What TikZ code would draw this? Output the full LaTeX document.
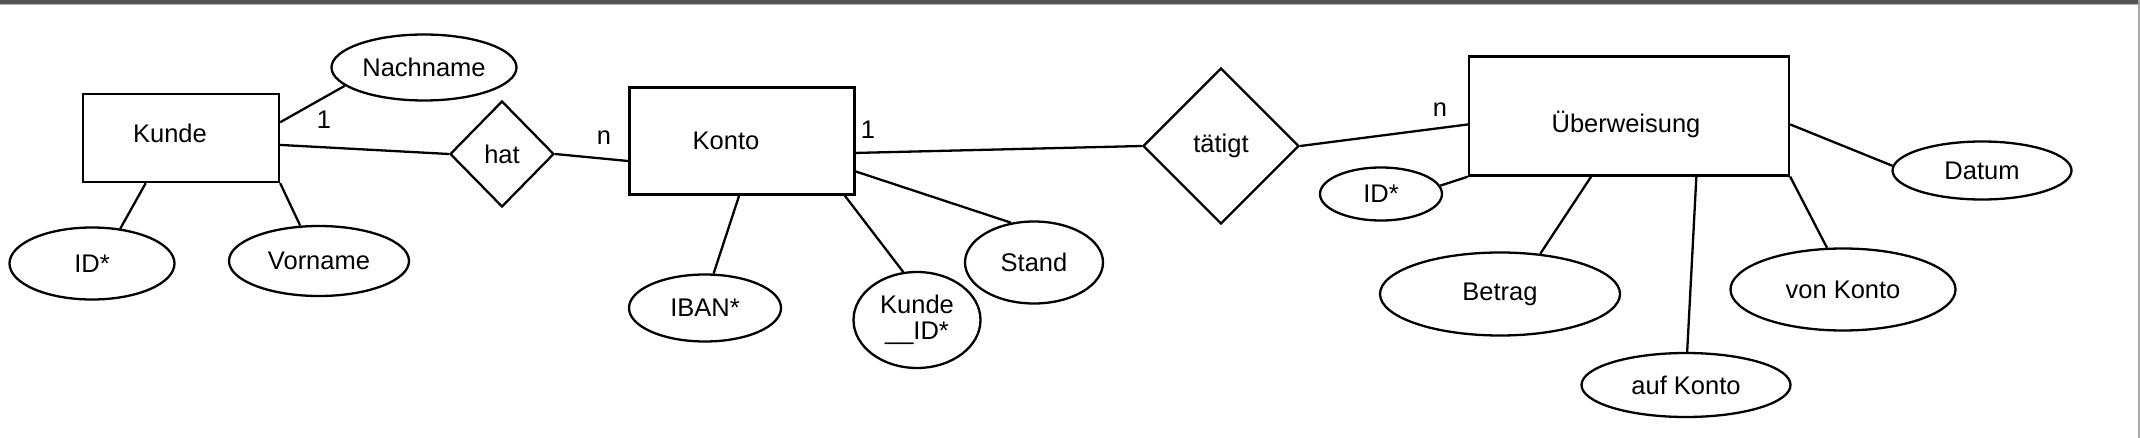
\documentclass[tikz,border=0pt]{standalone}
\usepackage{fontspec}
\setmainfont{Liberation Sans}
\usetikzlibrary{shapes.geometric}

\begin{document}
\begin{tikzpicture}[x=1pt,y=-1pt,line width=2.3pt,font=\fontsize{25.5}{26}\selectfont]

    % `entity' is used for the tables.
    % `attribute' is used for their fields.
    % `relation' is used for the links between tables.
    \tikzstyle{entity} = [draw,rectangle,inner sep=0pt]
    \tikzstyle{attribute} = [draw,ellipse,inner sep=0pt,align=center]
    \tikzstyle{relation} = [draw,diamond,aspect=1,inner sep=0pt]
    \tikzstyle{card} = [inner sep=0pt]
    %
    \useasboundingbox (0,0) rectangle (2140,438);
    \fill[black!67] (0,0) rectangle (2140,4);
    \draw[black!30,line width=1pt] (0,4.5) -- (2140,4.5);
    \draw[black!35,line width=1.5pt] (2139,0) -- (2139,438);

    % Entities.
    \node[entity,minimum width=196,minimum height=88,
      label={[name=kundetext,xshift=-11pt,yshift=5pt]center:Kunde}] (kunde) at (181,138) {};
    \node[entity,minimum width=225,minimum height=107,
      label={[name=kontotext,xshift=-16pt]center:Konto}] (konto) at (742,141) {};
    \node[entity,minimum width=320,minimum height=119,
      label={[name=uebtext,xshift=-3pt,yshift=-8pt]center:Überweisung}] (ueberweisung) at (1629,116) {};

    % Relations.
    \node[relation,minimum width=104,minimum height=106] (hat) at (502,154) {hat};
    \node[relation,minimum width=156,minimum height=156] (taetigt) at (1221,146) {tätigt};

    % Attributes.
    \node[attribute,minimum width=185,minimum height=66] (nachname) at (424,67.5) {Nachname};
    \node[attribute,minimum width=165,minimum height=72] (idk) at (92,263.5) {ID*};
    \node[attribute,minimum width=180,minimum height=70] (vorname) at (319,261) {Vorname};
    \node[attribute,minimum width=152,minimum height=67] (iban) at (705,308) {IBAN*};
    \node[attribute,minimum width=127,minimum height=96] (kundeid) at (917,320) {Kunde\\\_\_ID*};
    \node[attribute,minimum width=138,minimum height=82] (stand) at (1034,262.5) {Stand};
    \node[attribute,minimum width=122,minimum height=53] (idu) at (1381,194) {ID*};
    \node[attribute,minimum width=240,minimum height=83] (betrag) at (1500,294) {Betrag};
    \node[attribute,minimum width=209,minimum height=64] (aufkonto) at (1686,385) {auf Konto};
    \node[attribute,minimum width=225,minimum height=82] (vonkonto) at (1843,289.5) {von Konto};
    \node[attribute,minimum width=179,minimum height=58] (datum) at (1982,170.5) {Datum};

    % Cardinalities.
    \node[card] (card1) at (324,120) {1};
    \node[card] (card2) at (604,138) {n};
    \node[card] (card3) at (868,130) {1};
    \node[card] (card4) at (1440,110) {n};

    % Draw lines.
    \draw (kunde.9) -- (nachname.193);
    \draw (kunde.-4) -- (hat.west);
    \draw (hat.east) -- (konto.190);
    \draw (kunde.232) -- (idk.51);
    \draw (kunde.south east) -- (vorname.118);
    \draw (konto.-6) -- (taetigt.west);
    \draw (konto.-15) -- (stand.120);
    \draw (konto.267) -- (iban.76);
    \draw (konto.-28) -- (kundeid.106);
    \draw (taetigt.east) -- (ueberweisung.183);
    \draw (idu.8) -- (ueberweisung.south west);
    \draw (ueberweisung.238) -- (betrag.45);
    \draw (ueberweisung.-42) -- (aufkonto.88);
    \draw (ueberweisung.south east) -- (vonkonto.111);
    \draw (ueberweisung.-3) -- (datum.177);
    %
\end{tikzpicture}
\end{document}
